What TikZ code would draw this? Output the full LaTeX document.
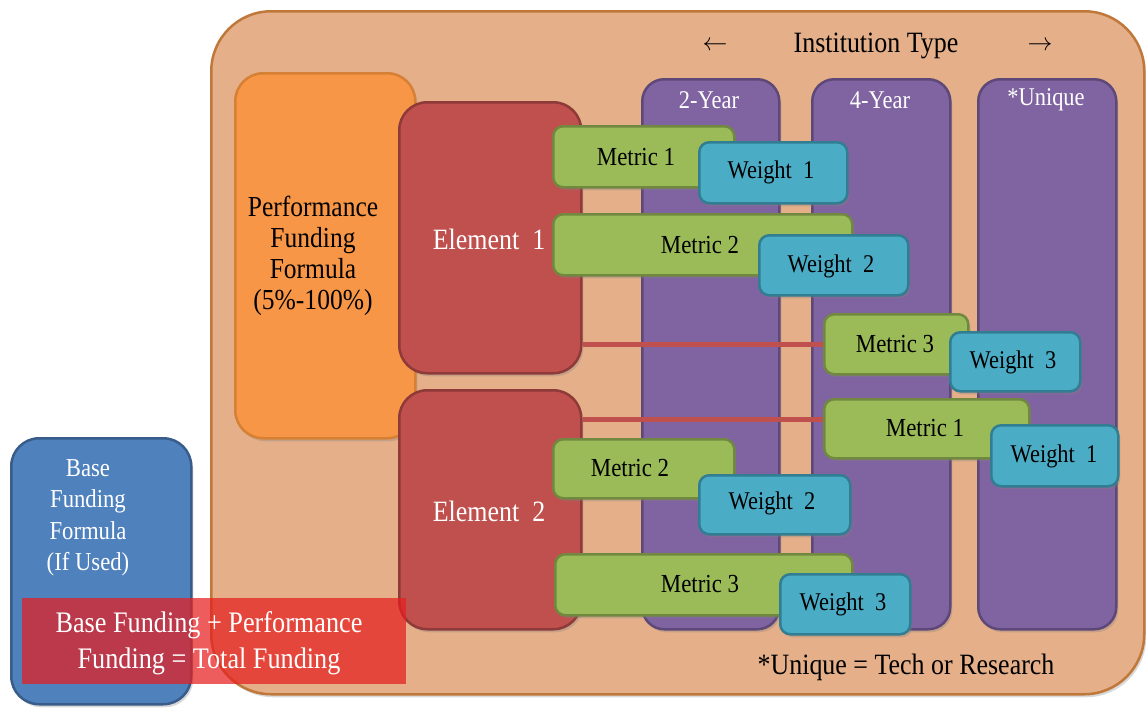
\documentclass[tikz,border=0pt]{standalone}
\usepackage{graphicx}
\usepackage{fontspec}
\setmainfont{Liberation Serif}
\newfontfamily\rf{Liberation Serif}
\usetikzlibrary{shadows}
\newcommand\sq[1]{\scalebox{0.88}[1]{#1}}
\definecolor{tanfill}{RGB}{228,175,137}
\definecolor{tanline}{RGB}{192,120,58}
\definecolor{orfill}{RGB}{247,150,70}
\definecolor{orline}{RGB}{214,128,52}
\definecolor{elfill}{RGB}{192,80,77}
\definecolor{elline}{RGB}{142,58,56}
\definecolor{pufill}{RGB}{128,100,162}
\definecolor{puline}{RGB}{94,72,120}
\definecolor{mefill}{RGB}{155,187,89}
\definecolor{meline}{RGB}{113,137,63}
\definecolor{wefill}{RGB}{75,172,198}
\definecolor{weline}{RGB}{49,125,146}
\definecolor{bafill}{RGB}{79,129,189}
\definecolor{baline}{RGB}{56,93,138}
\definecolor{totred}{RGB}{230,30,30}
\tikzset{
  shbox/.style={rectangle, anchor=north west, inner sep=0pt, line width=2.5pt,
    drop shadow={opacity=0.3, shadow xshift=2pt, shadow yshift=-3pt}},
  outerbox/.style={shbox, fill=tanfill, draw=tanline, rounded corners=60pt},
  perfbox/.style={shbox, fill=orfill, draw=orline, rounded corners=28pt},
  elembox/.style={shbox, fill=elfill, draw=elline, rounded corners=28pt},
  colbox/.style={shbox, fill=pufill, draw=puline, rounded corners=22pt},
  metbox/.style={shbox, fill=mefill, draw=meline, rounded corners=10pt},
  wtbox/.style={shbox, fill=wefill, draw=weline, rounded corners=10pt},
  basebox/.style={shbox, fill=bafill, draw=baline, rounded corners=28pt},
  totalbox/.style={rectangle, anchor=north west, inner sep=0pt, fill=totred, fill opacity=0.72},
  metlab/.style={inner sep=0pt, text=black, font=\rf\fontsize{26}{30}\selectfont},
  wtlab/.style={inner sep=0pt, text=black, font=\rf\fontsize{25.5}{30}\selectfont},
  whitelab/.style={inner sep=0pt, text=white, align=center},
  blacklab/.style={inner sep=0pt, text=black, align=center},
  link/.style={draw=elfill, line width=5pt},
}
\begin{document}
\begin{tikzpicture}[x=1pt, y=-1pt]
\useasboundingbox (0,0) rectangle (1146,707);
% outer container
\node[outerbox, minimum width=933pt, minimum height=683pt] (outer) at (210,10) {};
% performance funding formula
\node[perfbox, minimum width=180pt, minimum height=365pt] (perf) at (234,72) {};
\node[blacklab, font=\rf\fontsize{29}{31}\selectfont] (perft) at (313,256) {\sq{Performance}\\\sq{Funding}\\\sq{Formula}\\\sq{(5\%-100\%)}};
% elements
\node[elembox, minimum width=182pt, minimum height=271pt] (el1) at (398,101) {};
\node[elembox, minimum width=182pt, minimum height=239pt] (el2) at (398,389) {};
\node[whitelab, font=\rf\fontsize{29.5}{32}\selectfont] (el1t) at (489,239) {\sq{Element\ \ 1}};
\node[whitelab, font=\rf\fontsize{29.5}{32}\selectfont] (el2t) at (489,511) {\sq{Element\ \ 2}};
% institution columns
\node[colbox, minimum width=137pt, minimum height=550pt] (c2) at (641,78) {};
\node[colbox, minimum width=138pt, minimum height=550pt] (c4) at (811,78) {};
\node[colbox, minimum width=138pt, minimum height=550pt] (cu) at (977,78) {};
\node[whitelab, font=\rf\fontsize{25.5}{30}\selectfont] (c2t) at (709,100) {\sq{2-Year}};
\node[whitelab, font=\rf\fontsize{25.5}{30}\selectfont] (c4t) at (880,100) {\sq{4-Year}};
\node[whitelab, font=\rf\fontsize{25.5}{30}\selectfont] (cut) at (1046,100) {\sq{*Unique}};
% heading
\node[blacklab, font=\rf\fontsize{29.5}{32}\selectfont] (inst) at (876,46) {\sq{Institution Type}};
\node[blacklab, font=\rf\fontsize{29.5}{32}\selectfont] (larr) at (715,46) {$\leftarrow$};
\node[blacklab, font=\rf\fontsize{29.5}{32}\selectfont] (rarr) at (1040,46) {$\rightarrow$};
% metric boxes
\node[metbox, minimum width=181pt, minimum height=61pt] (m11) at (552,125) {};
\node[metbox, minimum width=299pt, minimum height=61pt] (m12) at (552,213) {};
\node[metbox, minimum width=144pt, minimum height=60pt] (m13) at (823,313) {};
\node[metbox, minimum width=205pt, minimum height=59pt] (m21) at (823,398) {};
\node[metbox, minimum width=181pt, minimum height=59pt] (m22) at (552,438) {};
\node[metbox, minimum width=297pt, minimum height=61pt] (m23) at (554,553) {};
% connectors from elements to metrics
\draw[link] (el1.east |- m13.west) -- (m13.west);
\coordinate (m21in) at ([yshift=9.5pt]m21.west);
\draw[link] (el2.east |- m21in) -- (m21in);
% weight boxes
\node[wtbox, minimum width=148pt, minimum height=61pt] (w11) at (698,141) {};
\node[wtbox, minimum width=149pt, minimum height=60pt] (w12) at (758,234) {};
\node[wtbox, minimum width=130pt, minimum height=59pt] (w13) at (949,331) {};
\node[wtbox, minimum width=127pt, minimum height=61pt] (w21) at (990,424) {};
\node[wtbox, minimum width=151pt, minimum height=59pt] (w22) at (698,474) {};
\node[wtbox, minimum width=130pt, minimum height=60pt] (w23) at (779,573) {};
% labels
\node[metlab] (m11t) at (636,157) {\sq{Metric 1}};
\node[metlab] (m12t) at (700,245) {\sq{Metric 2}};
\node[metlab] (m13t) at (895,344) {\sq{Metric 3}};
\node[metlab] (m21t) at (925,428) {\sq{Metric 1}};
\node[metlab] (m22t) at (630,468) {\sq{Metric 2}};
\node[metlab] (m23t) at (700,584) {\sq{Metric 3}};
\node[wtlab] (w11t) at (771,172) {\sq{Weight\ \ 1}};
\node[wtlab] (w12t) at (831,266) {\sq{Weight\ \ 2}};
\node[wtlab] (w13t) at (1013,362) {\sq{Weight\ \ 3}};
\node[wtlab] (w21t) at (1054,456) {\sq{Weight\ \ 1}};
\node[wtlab] (w22t) at (772,503) {\sq{Weight\ \ 2}};
\node[wtlab] (w23t) at (843,604) {\sq{Weight\ \ 3}};
% note
\node[blacklab, font=\rf\fontsize{29.5}{32}\selectfont] (note) at (906,667) {\sq{*Unique = Tech or Research}};
% base funding formula
\node[basebox, minimum width=180pt, minimum height=266pt] (base) at (10,437) {};
\node[whitelab, font=\rf\fontsize{25.8}{31.5}\selectfont] (baset) at (88,518) {\sq{Base}\\\sq{Funding}\\\sq{Formula}\\\sq{(If Used)}};
% total funding
\node[totalbox, minimum width=384pt, minimum height=86pt] (total) at (22,598) {};
\node[whitelab, font=\rf\fontsize{29.8}{36}\selectfont] (totalt) at (209,643) {\sq{Base Funding + Performance}\\\sq{Funding = Total Funding}};
\end{tikzpicture}
\end{document}
